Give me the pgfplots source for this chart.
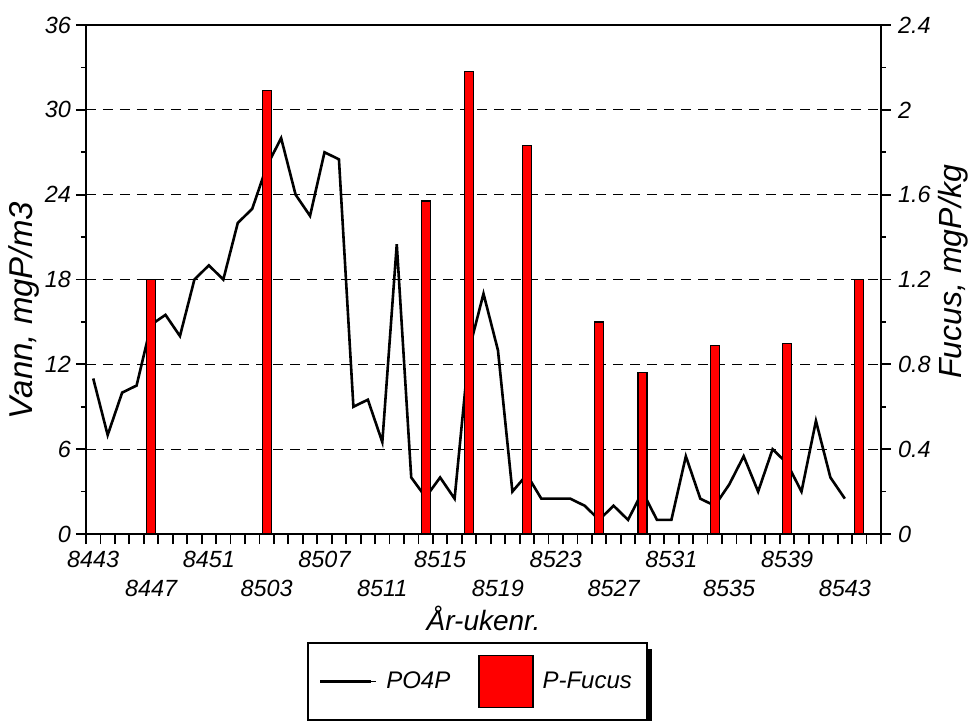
\documentclass[border=0pt]{standalone}
\usepackage{pgfplots}
\pgfplotsset{compat=1.18}
\usepackage{pgfplotstable}
\usepackage{fontspec}
\setmainfont{Liberation Sans}

\pgfplotsset{
  linelegend/.style={legend image code/.code={\path (0pt,0pt) -- (28pt,0pt); \draw[black, line width=1.3pt] (0pt,0pt) -- (25.5pt,0pt);}},
  barlegend/.style={legend image code/.code={\draw[fill=red, draw=black, line width=0.6pt] (0pt,-13pt) rectangle (27pt,13pt);}},
}

\pgfplotstableread{
i v
0 11
1 7
2 10
3 10.5
4 14.8
5 15.5
6 14
7 18
8 19
9 18
10 22
11 23
12 26
13 28
14 24
15 22.5
16 27
17 26.5
18 9
19 9.5
20 6.5
21 20.5
22 4
23 2.6
24 4
25 2.5
26 13
27 17
28 13
29 3
30 4.2
31 2.5
32 2.5
33 2.5
34 2
35 1
36 2
37 1
38 3
39 1
40 1
41 5.5
42 2.5
43 2
44 3.5
45 5.5
46 3
47 6
48 5
49 3
50 8
51 4
52 2.5
}\linedata

\pgfplotstableread{
i v
4 1.2
12 2.09
23 1.57
26 2.18
30 1.83
35 1.0
38 0.76
43 0.89
48 0.9
53 1.2
}\bardata

\begin{document}
\begin{tikzpicture}[x=1pt,y=1pt]
\begin{axis}[
  at={(0,0)}, anchor=origin,
  scale only axis, width=397.5pt, height=254.5pt,
  xmin=-0.5, xmax=54.5, ymin=0, ymax=36,
  xtick={-0.5,0.5,...,54.5}, xticklabels={},
  ytick={0,6,...,36}, yticklabels={0,6,12,18,24,30,36},
  minor y tick num=1,
  tick align=outside,
  major tick length=5pt, minor tick length=2.5pt,
  ytick pos=left, xtick pos=bottom,
  ymajorgrids,
  grid style={black, line width=0.5pt, dash pattern=on 5pt off 3.5pt},
  axis line style={line width=1pt},
  tick style={black, line width=0.9pt},
  tick label style={font=\fontsize{11.7}{13}\selectfont\itshape},
  yticklabel style={xshift=1pt},
  ylabel={Vann, mgP/m3},
  ylabel style={at={(axis description cs:-0.078,0.439)}, anchor=center, font=\fontsize{16.5}{18}\selectfont\itshape},
  xlabel={År-ukenr.},
  xlabel style={at={(axis description cs:0.5,-0.1886)}, anchor=base, font=\fontsize{14}{16}\selectfont\itshape},
]
\addplot[black, line width=1.3pt, mark=none] table[x=i, y=v] {\linedata};
\coordinate (bl) at (rel axis cs:0,0);
\end{axis}
\begin{axis}[
  at={(0,0)}, anchor=origin,
  scale only axis, width=397.5pt, height=254.5pt,
  xmin=-0.5, xmax=54.5, ymin=0, ymax=2.4,
  axis y line*=right, axis x line*=bottom,
  axis line style={line width=1pt},
  ytick={0,0.4,0.8,1.2,1.6,2,2.4}, yticklabels={0,0.4,0.8,1.2,1.6,2,2.4},
  minor y tick num=1,
  tick align=outside,
  major tick length=5pt, minor tick length=2.5pt,
  tick style={black, line width=0.9pt},
  xtick={0,8,...,48}, xticklabels={8443,8451,8507,8515,8523,8531,8539},
  extra x ticks={4,12,...,52}, extra x tick labels={8447,8503,8511,8519,8527,8535,8543},
  major x tick style={draw=none},
  extra x tick style={major x tick style={draw=none}, xticklabel style={yshift=-14.5pt}},
  tick label style={font=\fontsize{11.7}{13}\selectfont\itshape},
  ylabel={Fucus, mgP/kg},
  ylabel style={at={(axis description cs:1.0906,0.515)}, anchor=center, rotate=0, font=\fontsize{16}{18}\selectfont\itshape},
  legend columns=2,
  legend style={at={(axis description cs:0.4925,-0.212)}, anchor=north, draw=black, line width=0.8pt,
    fill=white, name=leg,
    font=\fontsize{12}{14}\selectfont\itshape, inner xsep=5.5pt, inner ysep=6pt,
    /tikz/every odd column/.append style={column sep=2.5pt},
    /tikz/every even column/.append style={column sep=12pt}},
]
\addlegendimage{linelegend}
\addlegendentry{PO4P}
\addplot[ybar, bar width=4.5pt, fill=red, draw=black, line width=0.6pt, barlegend]
  table[x=i, y=v] {\bardata};
\addlegendentry{P-Fucus}
\end{axis}
\fill[black] ([yshift=-3.5pt]leg.north east) rectangle ([xshift=2pt,yshift=-3.5pt]leg.south east);
\fill[black] ([xshift=2pt]leg.south west) rectangle ([xshift=2pt,yshift=-3.5pt]leg.south east);
\pgfresetboundingbox
\useasboundingbox ([shift={(-43pt,-93pt)}]bl) rectangle ([shift={(442pt,267pt)}]bl);
\end{tikzpicture}
\end{document}
